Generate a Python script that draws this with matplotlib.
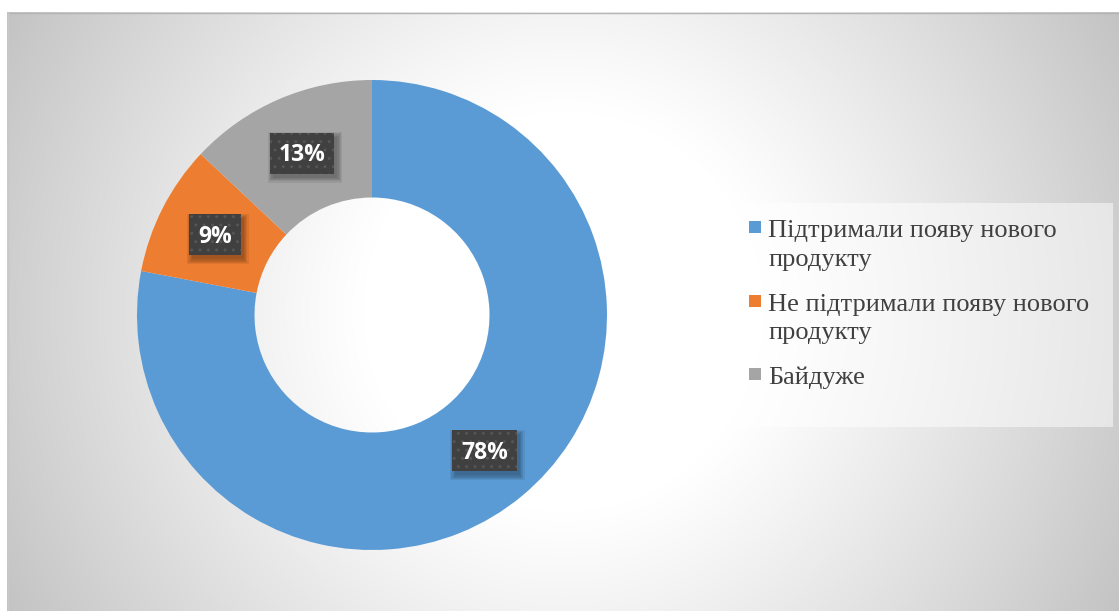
import numpy as np
import matplotlib
matplotlib.use("Agg")
import matplotlib.pyplot as plt
import matplotlib.transforms as mtransforms
from matplotlib.patches import Rectangle

# Survey answers
categories = [
    "Підтримали появу нового продукту",
    "Не підтримали появу нового продукту",
    "Байдуже",
]
legend_lines = [
    ["Підтримали появу нового", "продукту"],
    ["Не підтримали появу нового", "продукту"],
    ["Байдуже"],
]
shares = [78, 9, 13]
colors = ["#5B9BD5", "#ED7D31", "#A5A5A5"]

W, H, DPI = 1119, 611, 100
fig = plt.figure(figsize=(W / DPI, H / DPI), dpi=DPI)
pix = mtransforms.IdentityTransform()

# Radial grey-to-white background of the chart area
bg = fig.add_axes([0, 0, 1, 1])
bg.set_axis_off()
yy, xx = np.mgrid[0:H, 0:W]
r = np.hypot(xx - 563, yy - 311)
t = np.clip((r - 200) / 440, 0, 1) ** 1.1
val = 1 - (61 / 255) * t
img = np.dstack([val, val, val])
img[:12, :, :] = 1
img[:, :7, :] = 1
bg.imshow(img, aspect="auto", interpolation="bilinear")
bg.plot([7, W], [12, 12], color="#b4b4b4", lw=1)
bg.plot([7, 7], [12, H], color="#c8c8c8", lw=1)
bg.set_xlim(-0.5, W - 0.5)
bg.set_ylim(H - 0.5, -0.5)

# Donut
cx, cy, R = 372, 315, 235
ax = fig.add_axes([(cx - R) / W, (H - cy - R) / H, 2 * R / W, 2 * R / H])
wedges, _ = ax.pie(shares, colors=colors, startangle=90, counterclock=False,
                   radius=1, wedgeprops=dict(width=0.5, linewidth=0))
ax.set_xlim(-1, 1)
ax.set_ylim(-1, 1)
ax.set_aspect("equal")
ax.axis("off")

fig.canvas.draw()
renderer = fig.canvas.get_renderer()

fs = 16.5
cap = 0.714 * fs * DPI / 72
box_h = 41
for w, v in zip(wedges, shares):
    mid = np.deg2rad((w.theta1 + w.theta2) / 2)
    x, y = 0.75 * np.cos(mid), 0.75 * np.sin(mid)
    txt = ax.text(x, y, f"{v}%", ha="center", va="baseline", color="white",
                  fontsize=fs, fontweight="bold", family="Open Sans", zorder=6,
                  transform=mtransforms.offset_copy(ax.transData, fig, x=0, y=-cap / 2, units="dots"))
    ext = txt.get_window_extent(renderer)
    bw = ext.width + 18
    px, py = ax.transData.transform((x, y))
    # soft drop shadow
    for k in range(5):
        g = k * 1.2
        sh = Rectangle((-bw / 2 + 3 - g, -box_h / 2 - 4 - g), bw + 2 * g, box_h + 2 * g,
                       transform=mtransforms.Affine2D().translate(px, py),
                       facecolor="black", alpha=0.07, linewidth=0, zorder=4, clip_on=False)
        fig.add_artist(sh)
    box = Rectangle((-bw / 2, -box_h / 2), bw, box_h,
                    transform=mtransforms.Affine2D().translate(px, py),
                    facecolor="#404040", edgecolor="#555555", linewidth=0,
                    hatch="..", zorder=5, clip_on=False)
    fig.add_artist(box)
    txt.remove()
    fig.add_artist(txt)

# Legend
fig.add_artist(Rectangle((737, H - 427), 376, 224, transform=pix,
                         facecolor="white", alpha=0.5, linewidth=0, zorder=2))
base = 237
line_h = 29
for lines, c in zip(legend_lines, colors):
    fig.add_artist(Rectangle((749, H - base + 4), 12, 12, transform=pix,
                             facecolor=c, linewidth=0, zorder=3))
    for j, s in enumerate(lines):
        fig.text(768, H - (base + j * line_h), s, transform=pix, ha="left", va="baseline",
                 fontsize=19, family="Liberation Serif", color="#404040", zorder=3)
    base += (len(lines) - 1) * line_h + 44.5

fig.savefig("out.png", dpi=DPI)
